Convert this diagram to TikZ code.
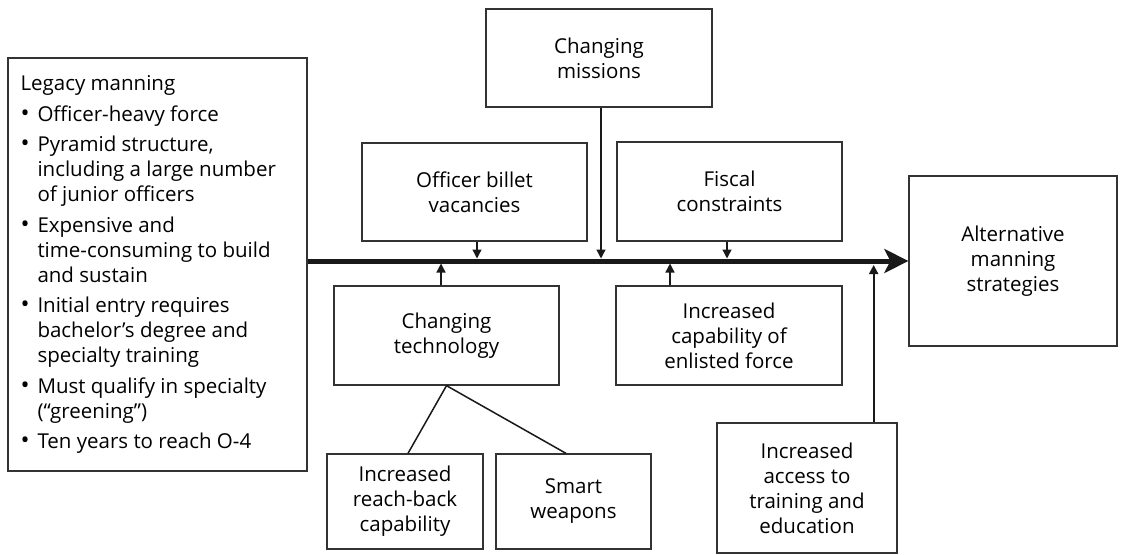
\documentclass[tikz,border=0pt]{standalone}
\usepackage{fontspec}
\setmainfont{Open Sans}
\usetikzlibrary{arrows.meta}
\tikzstyle{factor}=[rectangle, draw=black!80, line width=1.3pt, align=center, inner sep=0pt, font=\fontsize{20.5}{25}\selectfont]
\tikzstyle{feed}=[draw=black!90, line width=1.3pt, -{Triangle[length=9pt, width=9pt]}]
\tikzstyle{spine}=[draw=black!90, line width=5pt, -{Stealth[length=24pt, width=24pt, inset=6pt]}]
\newcommand{\factor}{\node[factor]}
\newcommand{\legacyitem}[1]{\par\vspace{5.5pt}\hangindent=17pt\hangafter=1\noindent\makebox[17pt][l]{\fontsize{24}{25}\selectfont\textbullet}#1}

\begin{document}
\begin{tikzpicture}[x=1pt, y=-1pt]
\useasboundingbox (0,0) rectangle (1123,554);

\factor[minimum width=299pt, minimum height=413pt] (legacy) at (157.5,264.5) {%
  \parbox{274pt}{\raggedright
  Legacy manning
  \legacyitem{Officer-heavy force}
  \legacyitem{Pyramid structure,\newline including a large number\newline of junior officers}
  \legacyitem{Expensive and\newline time-consuming to build\newline and sustain}
  \legacyitem{Initial entry requires\newline bachelor’s degree and\newline specialty training}
  \legacyitem{Must qualify in specialty\newline (“greening”)}
  \legacyitem{Ten years to reach O-4}}};

\factor[minimum width=226pt, minimum height=98pt] (missions) at (599,58) {Changing\\missions};
\factor[minimum width=225pt, minimum height=98pt] (billet) at (474.5,192) {Officer billet\\vacancies};
\factor[minimum width=225pt, minimum height=99pt] (fiscal) at (729.5,191.5) {Fiscal\\constraints};
\factor[minimum width=208pt, minimum height=170pt] (alt) at (1013,261) {Alternative\\manning\\strategies};

\factor[minimum width=225pt, minimum height=99pt] (tech) at (446.5,335.5) {Changing\\technology};
\factor[minimum width=226pt, minimum height=99pt] (enlisted) at (729,335.5) {Increased\\capability of\\enlisted force};
\factor[minimum width=156pt, minimum height=95pt] (reach) at (405,501.5) {Increased\\reach-back\\capability};
\factor[minimum width=155pt, minimum height=95pt] (smart) at (573.5,501.5) {Smart\\weapons};
\factor[minimum width=180pt, minimum height=130pt] (edu) at (807,488) {Increased\\access to\\training and\\education};

\path[spine] (legacy.east |- alt.west) -- (alt.west);

\path[feed] ([xshift=2.5pt]billet.south) -- ([xshift=2.5pt, yshift=2.5pt]billet.south |- alt.west);
\path[feed] ([xshift=2pt]missions.south) -- ([xshift=2pt, yshift=2.5pt]missions.south |- alt.west);
\path[feed] ([xshift=-2.5pt]fiscal.south) -- ([xshift=-2.5pt, yshift=2.5pt]fiscal.south |- alt.west);
\path[feed] ([xshift=-5.5pt]tech.north) -- ([xshift=-5.5pt, yshift=-2.5pt]tech.north |- alt.west);
\path[feed] ([xshift=-59pt]enlisted.north) -- ([xshift=-59pt, yshift=-2.5pt]enlisted.north |- alt.west);
\path[feed, line width=2pt] ([xshift=-24pt]edu.north east) -- ([xshift=-24pt, yshift=-4pt]edu.north east |- alt.west);

\draw[black!90, line width=1.5pt] (tech.south) -- ([xshift=3pt]reach.north)
  (tech.south) -- ([xshift=-7.5pt]smart.north);
\end{tikzpicture}
\end{document}
